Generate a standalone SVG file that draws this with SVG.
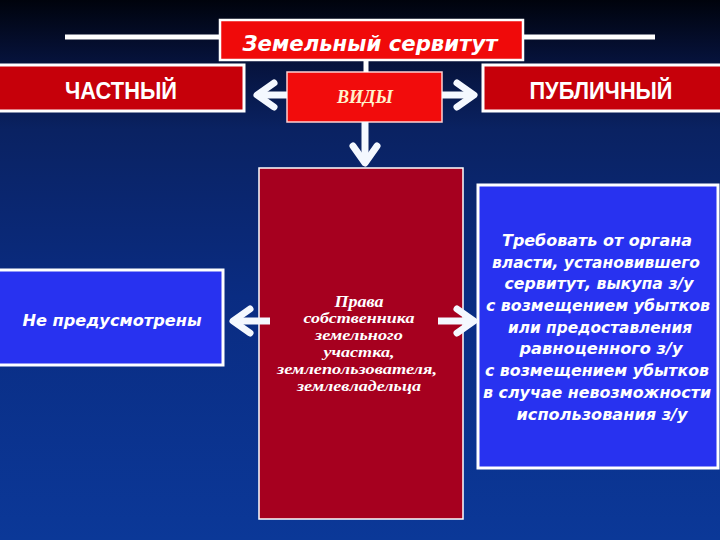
<svg xmlns="http://www.w3.org/2000/svg" width="720" height="540" viewBox="0 0 720 540">
<defs>
<linearGradient id="bg" x1="0" y1="0" x2="0" y2="1">
<stop offset="0" stop-color="#00030c"/>
<stop offset="0.11" stop-color="#06123a"/>
<stop offset="0.24" stop-color="#0a2262"/>
<stop offset="0.55" stop-color="#0a2c82"/>
<stop offset="1" stop-color="#0b3898"/>
</linearGradient>
<marker id="chev" markerUnits="userSpaceOnUse" orient="auto" refX="0" refY="0" markerWidth="30" markerHeight="34" viewBox="-24 -17 30 34" overflow="visible">
<path d="M -17 -12 L 0 0 L -17 12" fill="none" stroke="#f4f8ff" stroke-width="7" stroke-linejoin="round" stroke-linecap="round"/>
</marker>
<style>
.wline{stroke:#ffffff;stroke-width:5;fill:none}
.arr{stroke:#f4f8ff;stroke-width:7;fill:none;marker-end:url(#chev)}
.red{fill:#f00a0a;stroke:#ffffff;stroke-width:2.5}
.dred{fill:#c6000a;stroke:#ffffff;stroke-width:3}
.tall{fill:#a6001f;stroke:#ffffff;stroke-width:1.5}
.blue{fill:#2832f0;stroke:#ffffff;stroke-width:3}
.gothic{font-family:"DejaVu Sans","Noto Sans",sans-serif;font-style:oblique;fill:#ffffff;text-anchor:middle}
.narrow{font-family:"Liberation Sans Narrow","Liberation Sans",sans-serif;font-weight:bold;fill:#ffffff;text-anchor:middle}
.serif{font-family:"Liberation Serif","DejaVu Serif",serif;font-style:italic;font-weight:bold;fill:#ffffff;text-anchor:middle}
</style>
</defs>
<rect x="0" y="0" width="720" height="540" fill="url(#bg)"/>

<g id="decor">
<line class="wline" x1="65" y1="37" x2="220" y2="37"/>
<line class="wline" x1="523" y1="37" x2="655" y2="37"/>
</g>

<g id="node-title">
<rect class="red" x="220" y="20" width="303" height="40"/>
<text class="gothic" x="370" y="51" font-size="21" font-weight="bold" textLength="255" lengthAdjust="spacingAndGlyphs">Земельный сервитут</text>
</g>

<g id="node-private">
<rect class="dred" x="-2" y="65" width="246" height="46"/>
<text class="narrow" x="121" y="99" font-size="23" textLength="112" lengthAdjust="spacingAndGlyphs">ЧАСТНЫЙ</text>
</g>

<g id="node-public">
<rect class="dred" x="483" y="65" width="239" height="46"/>
<text class="narrow" x="601" y="99" font-size="23" textLength="143" lengthAdjust="spacingAndGlyphs">ПУБЛИЧНЫЙ</text>
</g>

<g id="node-types">
<rect x="287" y="72" width="155" height="50" fill="#f20c0c" stroke="#ffd0d0" stroke-width="1.5"/>
<text class="serif" x="365" y="103" font-size="18" style="fill:#fff2cc" textLength="56" lengthAdjust="spacingAndGlyphs">ВИДЫ</text>
</g>

<g id="node-rights">
<rect class="tall" x="259" y="168" width="204" height="351"/>
<text class="serif" x="359" y="307" font-size="16" textLength="49" lengthAdjust="spacingAndGlyphs">Права</text>
<text class="serif" x="359" y="323" font-size="15" textLength="111" lengthAdjust="spacingAndGlyphs">собственника</text>
<text class="serif" x="359" y="340" font-size="15" textLength="88" lengthAdjust="spacingAndGlyphs">земельного</text>
<text class="serif" x="359" y="357" font-size="15" textLength="71" lengthAdjust="spacingAndGlyphs">участка,</text>
<text class="serif" x="357" y="374" font-size="15" textLength="160" lengthAdjust="spacingAndGlyphs">землепользователя,</text>
<text class="serif" x="359" y="391" font-size="15" textLength="124" lengthAdjust="spacingAndGlyphs">землевладельца</text>
</g>

<g id="node-none">
<rect class="blue" x="-2" y="270" width="225" height="95"/>
<text class="gothic" x="112" y="326" font-size="16" font-weight="bold" textLength="179" lengthAdjust="spacingAndGlyphs">Не предусмотрены</text>
</g>

<g id="node-demand">
<rect class="blue" x="478" y="185" width="240" height="283"/>
<g class="gothic" font-size="16" font-weight="bold">
<text x="597" y="246" textLength="190" lengthAdjust="spacingAndGlyphs">Требовать от органа</text>
<text x="596" y="267.6" textLength="208" lengthAdjust="spacingAndGlyphs">власти, установившего</text>
<text x="599" y="289.3" textLength="189" lengthAdjust="spacingAndGlyphs">сервитут, выкупа з/у</text>
<text x="598" y="311" textLength="224" lengthAdjust="spacingAndGlyphs">с возмещением убытков</text>
<text x="600" y="332.7" textLength="184" lengthAdjust="spacingAndGlyphs">или предоставления</text>
<text x="601" y="354.4" textLength="163" lengthAdjust="spacingAndGlyphs">равноценного з/у</text>
<text x="597" y="376.1" textLength="224" lengthAdjust="spacingAndGlyphs">с возмещением убытков</text>
<text x="597" y="397.8" textLength="228" lengthAdjust="spacingAndGlyphs">в случае невозможности</text>
<text x="602" y="419.5" textLength="171" lengthAdjust="spacingAndGlyphs">использования з/у</text>
</g>
</g>

<g id="connectors">
<line class="wline" x1="366" y1="60" x2="366" y2="72"/>
<line class="arr" x1="287" y1="95" x2="257" y2="95"/>
<line class="arr" x1="442" y1="95" x2="474" y2="95"/>
<line class="arr" x1="365" y1="122" x2="365" y2="163"/>
<line class="arr" x1="270" y1="321" x2="233" y2="321"/>
<line class="arr" x1="438" y1="321" x2="474" y2="321"/>
</g>
</svg>
